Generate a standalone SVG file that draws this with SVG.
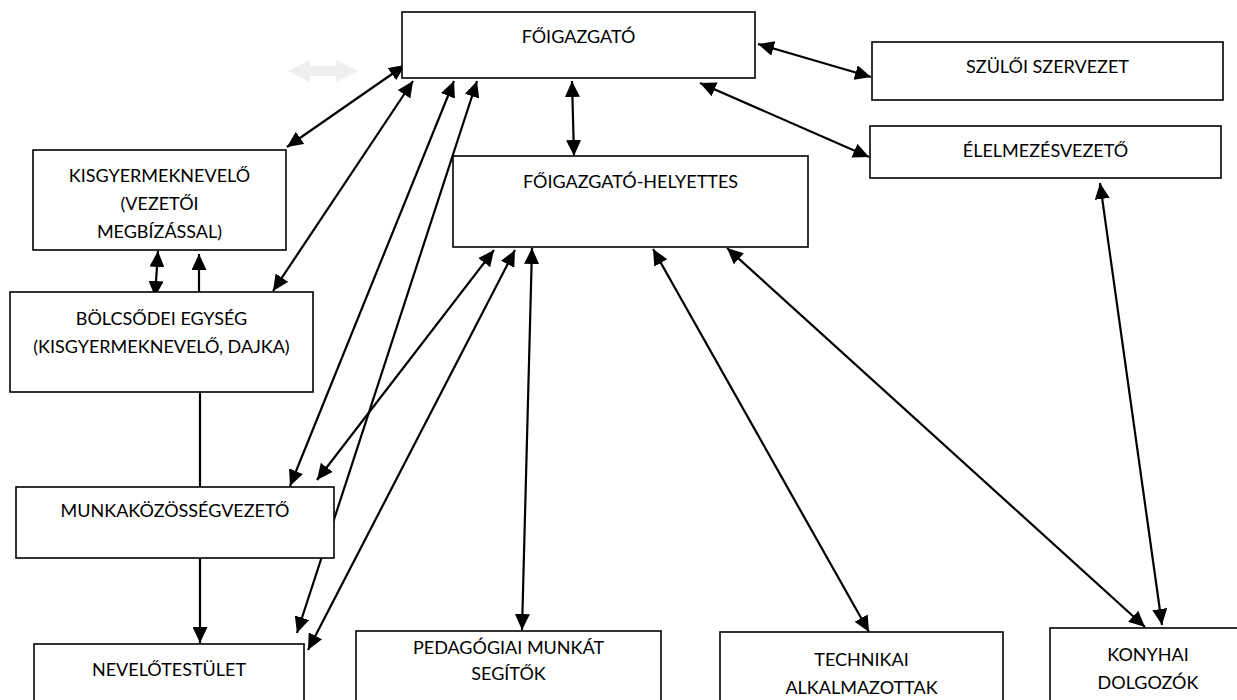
<svg xmlns="http://www.w3.org/2000/svg" width="1237" height="700" viewBox="0 0 1237 700">
<style>
.box{fill:#fff;stroke:#000;stroke-width:1.6}
.t{font-family:Lato,"Open Sans","Liberation Sans",sans-serif;font-size:18px;fill:#000;text-anchor:middle}
.c{stroke:#000;stroke-width:2.2;fill:none}
.d{marker-start:url(#ah);marker-end:url(#ah)}
.s{marker-end:url(#ah)}
</style>
<defs>
<marker id="ah" markerUnits="userSpaceOnUse" markerWidth="17" markerHeight="15" refX="16" refY="7.5" orient="auto-start-reverse" viewBox="0 0 17 15">
<path d="M0,0 L16,7.5 L0,15 z" fill="#000"/>
</marker>
</defs>
<rect width="1237" height="700" fill="#fff"/>
<g id="ghost">
<polygon points="288,71 310,60 310,66 336,66 336,60 358,71 336,82 336,76 310,76 310,82" fill="#efefef"/>
</g>
<g id="connectors">
<line class="c d" x1="758" y1="44" x2="871" y2="77"/>
<line class="c d" x1="700" y1="83" x2="869" y2="157"/>
<line class="c d" x1="572" y1="81" x2="574" y2="156"/>
<line class="c d" x1="405" y1="65" x2="287" y2="147"/>
<line class="c d" x1="413" y1="81" x2="273" y2="291"/>
<line class="c d" x1="454" y1="81" x2="290" y2="486"/>
<line class="c d" x1="477" y1="81" x2="297" y2="633"/>
<line class="c d" x1="494" y1="250" x2="317" y2="480"/>
<line class="c d" x1="515" y1="250" x2="308" y2="650"/>
<line class="c d" x1="532" y1="248" x2="522" y2="630"/>
<line class="c d" x1="653" y1="249" x2="869" y2="632"/>
<line class="c d" x1="727" y1="248" x2="1145" y2="627"/>
<line class="c d" x1="1100" y1="183" x2="1162" y2="625"/>
<line class="c d" x1="158" y1="251" x2="155" y2="297"/>
<line class="c s" x1="199" y1="292" x2="199" y2="254"/>
<line class="c" x1="200" y1="392" x2="200" y2="487"/>
<line class="c s" x1="200" y1="558" x2="200" y2="643"/>
</g>
<g id="foigazgato"><rect class="box" x="402" y="12" width="353" height="66"/><text class="t" x="578.5" y="43">FŐIGAZGATÓ</text></g>
<g id="szuloi"><rect class="box" x="872" y="42" width="351" height="58"/><text class="t" x="1047.5" y="73">SZÜLŐI SZERVEZET</text></g>
<g id="elelmezes"><rect class="box" x="870" y="126" width="351" height="52"/><text class="t" x="1045.5" y="157">ÉLELMEZÉSVEZETŐ</text></g>
<g id="helyettes"><rect class="box" x="453" y="156" width="355" height="91"/><text class="t" x="630.5" y="188">FŐIGAZGATÓ-HELYETTES</text></g>
<g id="kisgyermek"><rect class="box" x="33" y="150" width="253" height="100"/><text class="t" x="159.5" y="182">KISGYERMEKNEVELŐ</text><text class="t" x="159.5" y="210">(VEZETŐI</text><text class="t" x="159.5" y="238">MEGBÍZÁSSAL)</text></g>
<g id="bolcsodei"><rect class="box" x="10" y="292" width="303" height="100"/><text class="t" x="161.5" y="325">BÖLCSŐDEI EGYSÉG</text><text class="t" x="161.5" y="353">(KISGYERMEKNEVELŐ, DAJKA)</text></g>
<g id="munkakozosseg"><rect class="box" x="16" y="487" width="318" height="71"/><text class="t" x="175" y="517">MUNKAKÖZÖSSÉGVEZETŐ</text></g>
<g id="nevelotestulet"><rect class="box" x="34" y="644" width="270" height="60"/><text class="t" x="169" y="676">NEVELŐTESTÜLET</text></g>
<g id="pedagogiai"><rect class="box" x="356" y="631" width="305" height="70"/><text class="t" x="508.5" y="654">PEDAGÓGIAI MUNKÁT</text><text class="t" x="508.5" y="680">SEGÍTŐK</text></g>
<g id="technikai"><rect class="box" x="720" y="632" width="283" height="70"/><text class="t" x="861.5" y="666">TECHNIKAI</text><text class="t" x="861.5" y="694">ALKALMAZOTTAK</text></g>
<g id="konyhai"><rect class="box" x="1050" y="628" width="200" height="75"/><text class="t" x="1148" y="661">KONYHAI</text><text class="t" x="1148" y="689">DOLGOZÓK</text></g>
</svg>
